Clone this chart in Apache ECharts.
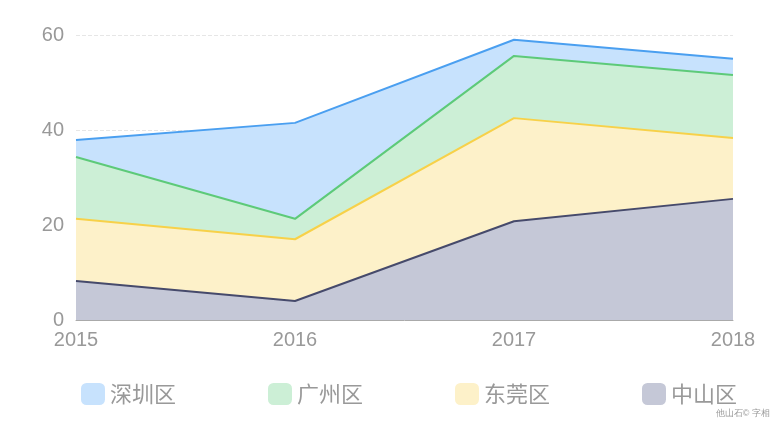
<!DOCTYPE html>
<html><head><meta charset="utf-8">
<script src="https://cdn.jsdelivr.net/npm/echarts@6/dist/echarts.min.js"></script>
<style>html,body{margin:0;padding:0;background:#fff}#c{width:780px;height:432px}</style>
</head><body><div id="c"></div>
<script>
const categories = ['2015','2016','2017','2018'];
const zhongshan = [8.2, 4, 20.8, 25.5];
const dongguan = [13.1, 13, 21.7, 12.8];
const guangzhou = [13, 4.3, 13.1, 13.3];
const shenzhen = [3.6, 20.2, 3.4, 3.4];
const yTicks = [0, 20, 40, 60];

const chart = echarts.init(document.getElementById('c'));
function s(name, data, line, area) {
  return {name, type:'line', stack:'t', data, symbol:'none', smooth:false,
    lineStyle:{color:line, width:2}, itemStyle:{color:area},
    areaStyle:{color:area, opacity:1}};
}
chart.setOption({
  animation:false,
  grid:{left:76, right:47, top:35, bottom:112},
  legend:{bottom:22, left:76, itemWidth:24, itemHeight:22, itemGap:92,
    icon:'roundRect',
    textStyle:{fontSize:22, color:'#999', fontFamily:'Noto Sans CJK SC'},
    data:['深圳区','广州区','东莞区','中山区']},
  xAxis:{type:'category', boundaryGap:false, data:categories,
    axisLine:{lineStyle:{color:'#aaa'}}, axisTick:{show:false},
    axisLabel:{fontSize:20, color:'#999', margin:10,
      formatter:(v,i)=>v, alignMinLabel:'center', alignMaxLabel:'center'}},
  yAxis:{type:'value', min:0, max:60, interval:20,
    axisLine:{show:false}, axisTick:{show:false},
    axisLabel:{fontSize:20, color:'#999', margin:12, formatter:v=>yTicks.includes(v)?String(v):''},
    splitLine:{lineStyle:{color:'#e6e6e6', type:'dashed'}}},
  graphic:[{type:'text', right:10, bottom:14, style:{text:'他山石© 字相', fontSize:9, fill:'#999'}}],
  series:[
    s('中山区', zhongshan, '#464a6b', '#c5c8d7'),
    s('东莞区', dongguan, '#f7d149', '#fdf1c9'),
    s('广州区', guangzhou, '#5dca79', '#ccefd6'),
    s('深圳区', shenzhen, '#4a9ff0', '#c7e2fd')
  ]
});
</script></body></html>
